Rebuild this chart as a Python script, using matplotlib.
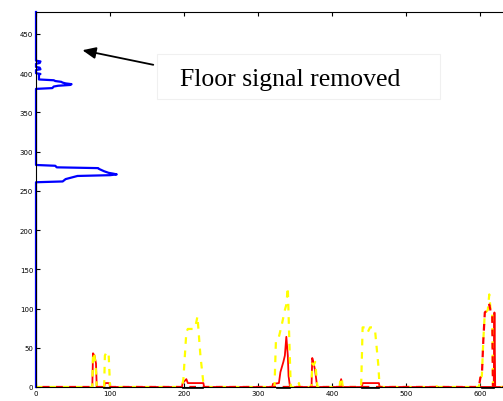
import numpy as np
import matplotlib.pyplot as plt
from matplotlib.patches import Rectangle

# vertical profile (blue): row index vs amplitude
blue_row = [0, 261, 262, 265, 268, 269, 270, 271, 272, 273, 275, 278, 279, 280, 282, 283,
            380, 381, 383, 384, 385, 386, 387, 388, 389, 390, 391, 392,
            398, 399, 400, 404, 405, 407, 408, 412, 413, 415, 416, 478]
blue_val = [0, 0, 36, 40, 52, 56, 100, 109, 104, 98, 92, 85, 84, 28, 26, 0,
            0, 22, 24, 30, 46, 48, 40, 36, 34, 26, 24, 4,
            4, 6, 0, 0, 6, 5, 0, 0, 5, 6, 0, 0]

# horizontal signals
yellow_x = [0, 76, 77, 79, 81, 82, 92, 93, 95, 98, 100,
            197, 199, 203, 205, 212, 215, 218, 222, 226, 228,
            322, 324, 328, 332, 336, 338, 340, 342, 344, 354, 355, 356,
            372, 373, 375, 377, 379, 380, 410, 411, 413, 414,
            439, 441, 445, 448, 451, 455, 458, 462, 464, 541, 542, 543, 591, 592, 593,
            598, 600, 602, 604, 606, 608, 610, 612, 614, 616, 617, 640]
yellow_y = [0, 0, 44, 40, 20, 0, 0, 40, 44, 44, 0,
            0, 10, 70, 74, 74, 76, 90, 40, 5, 0,
            0, 60, 64, 80, 98, 105, 127, 60, 0, 0, 5, 0,
            0, 30, 28, 32, 10, 0, 0, 12, 10, 0,
            0, 76, 76, 70, 76, 76, 70, 30, 0, 0, 5, 0, 0, 3, 0,
            0, 12, 14, 60, 95, 96, 98, 118, 96, 95, 0, 0]

red_x = [0, 76, 77, 79, 81, 82, 92, 93, 99, 100,
         197, 198, 203, 205, 226, 227,
         319, 320, 328, 330, 334, 336, 338, 340, 341, 343,
         372, 373, 375, 377, 379, 380, 410, 412, 414,
         440, 441, 463, 464, 618, 619, 620, 640]
red_y = [0, 0, 43, 40, 30, 0, 0, 5, 5, 0,
         0, 5, 10, 5, 5, 0,
         0, 4, 5, 19, 32, 40, 64, 40, 14, 0,
         0, 37, 30, 20, 5, 0, 0, 10, 0,
         0, 5, 5, 0, 0, 95, 0, 0]

reddash_x = [0, 598, 600, 602, 604, 606, 608, 610, 612, 614, 616, 617, 640]
reddash_y = [0, 0, 12, 14, 60, 95, 97, 100, 105, 96, 95, 0, 0]

black_x = [92, 100, np.nan, 198, 226, np.nan, 326, 343, np.nan, 440, 463, np.nan, 602, 618]
black_y = [-1.5, -1.5, np.nan, -1.5, -1.5, np.nan, -1.5, -1.5, np.nan, -1.5, -1.5, np.nan, -1.5, -1.5]

xticks = [0, 100, 200, 300, 400, 500, 600]
yticks = [0, 50, 100, 150, 200, 250, 300, 350, 400, 450]

fig = plt.figure(figsize=(5.03, 4.02), dpi=100)
ax = fig.add_axes([36 / 503, 14 / 402, 474 / 503, 375 / 402])

ax.plot(red_x, red_y, color=(1, 0, 0), lw=1.3)
ax.plot(yellow_x, yellow_y, color=(1, 1, 0), lw=1.6, linestyle=(0, (3, 3)))
ax.plot(reddash_x, reddash_y, color=(1, 0, 0), lw=1.6, linestyle=(3, (3, 3)))
ax.plot(black_x, black_y, color='black', lw=1.2, clip_on=False)
ax.plot(blue_val, blue_row, color=(0, 0, 1), lw=1.6, clip_on=False)

ax.set_xlim(0, 640)
ax.set_ylim(0, 478)
ax.set_xticks(xticks)
ax.set_yticks(yticks)
ax.tick_params(direction='in', length=3, width=0.8, labelsize=5, top=True, pad=2)
for s in ax.spines.values():
    s.set_linewidth(0.8)

# faint white box behind the label
fig.patches.append(Rectangle((157 / 503, 1 - 100 / 402), 283 / 503, 45 / 402,
                             transform=fig.transFigure, facecolor='white',
                             edgecolor='#f0f0f0', lw=0.8, zorder=3))
ax.annotate('', xy=(59, 430), xytext=(162, 410),
            arrowprops=dict(arrowstyle='-|>,head_length=0.8,head_width=0.35',
                            color='black', lw=1.3))
fig.text(180 / 503, 1 - 80 / 402, 'Floor signal removed',
         family='Liberation Serif', fontsize=18.5, va='center', ha='left', zorder=4)

fig.savefig('out.png', dpi=100)
